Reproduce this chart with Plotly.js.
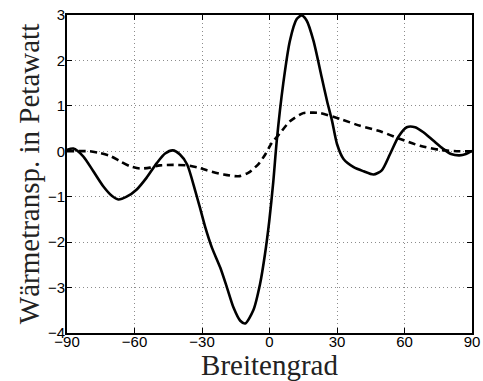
<!DOCTYPE html>
<html><head><meta charset="utf-8">
<script src="https://cdn.plot.ly/plotly-3.0.1.min.js"></script>
<style>html,body{margin:0;padding:0;background:#fff}</style>
</head><body><div id="chart" style="width:483px;height:381px"></div>
<script>
const latSolid = [-90,-87.2,-82.8,-78.3,-73.9,-70.1,-67.2,-63.5,-59.0,-54.6,-50.1,-46.4,-43.0,-39.8,-36.6,-33.0,-30.7,-28.5,-25.6,-21.9,-18.9,-16.0,-13.0,-10.8,-7.2,-4.2,-2.0,-0.1,1.7,3.2,6.1,9.1,12.1,14.3,16.5,19.5,23.2,25.6,27.8,30,32.9,37.4,41.8,46.2,49.9,53.6,57.3,61.0,64.7,68.4,72.9,77.3,80.7,84.4,87.3,90];
const fluxSolid = [0.03,0.06,-0.11,-0.44,-0.77,-0.98,-1.06,-1.0,-0.84,-0.58,-0.26,-0.05,0.02,-0.07,-0.29,-0.87,-1.28,-1.68,-2.12,-2.56,-3.0,-3.44,-3.73,-3.79,-3.5,-2.92,-2.26,-1.53,-0.66,0.22,1.49,2.44,2.91,2.99,2.88,2.44,1.63,1.1,0.67,0.16,-0.17,-0.35,-0.44,-0.51,-0.42,-0.06,0.32,0.53,0.53,0.42,0.23,0.05,-0.06,-0.09,-0.06,0.01];
const latDash = [-90,-79.8,-75.3,-70.9,-66.4,-62.0,-57.6,-53.1,-48.7,-42.8,-36.8,-31.6,-27.8,-20.4,-13.8,-9.3,-4.9,-1.9,1.0,4.7,9.1,15,19.5,22.6,31.5,40.3,49.2,58.1,66.9,75.8,84.4,90];
const fluxDash = [0,0,-0.04,-0.10,-0.22,-0.33,-0.38,-0.36,-0.31,-0.30,-0.31,-0.36,-0.42,-0.51,-0.55,-0.47,-0.28,-0.07,0.18,0.40,0.66,0.84,0.85,0.84,0.71,0.56,0.44,0.27,0.12,0.03,0,0];
const xTicks = [-90,-60,-30,0,30,60,90];
const yTicks = [-4,-3,-2,-1,0,1,2,3];
const xLabel = 'Breitengrad';
const yLabel = 'Wärmetransp. in Petawatt';

const traces = [
  {x: latSolid, y: fluxSolid, mode:'lines', line:{color:'#000', width:2.6, shape:'spline', smoothing:0.7}},
  {x: latDash, y: fluxDash, mode:'lines', line:{color:'#000', width:2.6, dash:'7px,4.5px', shape:'spline', smoothing:0.7}}
];
const axisCommon = {
  showline:true, linecolor:'#000', linewidth:2, mirror:'allticks',
  ticks:'inside', ticklen:5, tickwidth:1, tickcolor:'#000',
  showgrid:true, gridcolor:'#8c8c8c', griddash:'1px,3px', gridwidth:1,
  zeroline:false,
  tickfont:{family:'Liberation Sans, Arial, sans-serif', size:15, color:'#000'}
};
const layout = {
  width:483, height:381,
  margin:{l:67, r:11, t:15, b:48},
  paper_bgcolor:'#fff', plot_bgcolor:'#fff',
  showlegend:false,
  xaxis: Object.assign({}, axisCommon, {
    range:[-90,90], tickvals:xTicks, ticktext:xTicks.map(v=>v<0?'\u2212'+(-v):String(v)),
    ticklabelstandoff:-6,
    title:{text:xLabel, font:{family:'Liberation Serif, serif', size:29, color:'#222'}, standoff:0}
  }),
  yaxis: Object.assign({}, axisCommon, {
    range:[-4,3], tickvals:yTicks, ticktext:yTicks.map(v=>v<0?'\u2212'+(-v):String(v)),
    ticklabelstandoff:-3,
    title:{text:yLabel, font:{family:'Liberation Serif, serif', size:29, color:'#222'}, standoff:0}
  })
};
Plotly.newPlot('chart', traces, layout, {displayModeBar:false, staticPlot:true});
</script></body></html>
